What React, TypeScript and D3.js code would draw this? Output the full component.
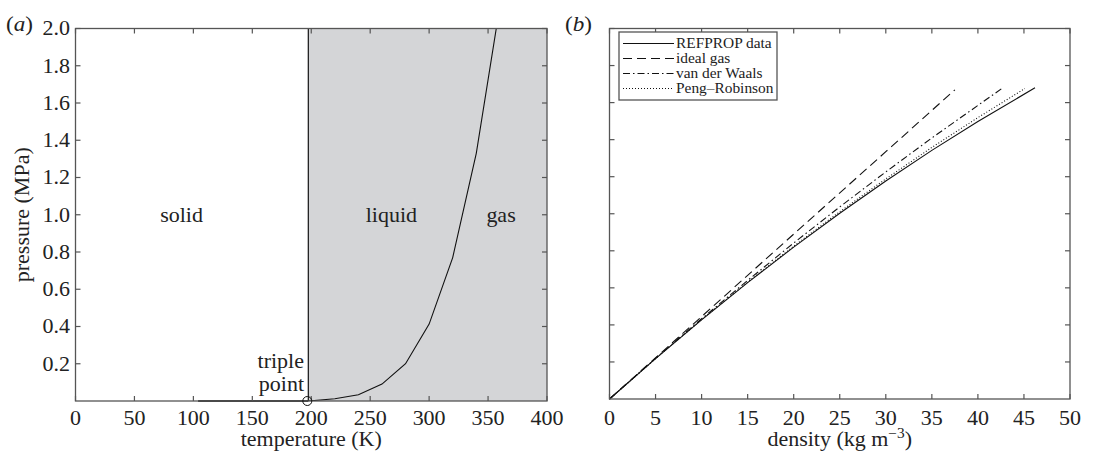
import React from 'react';
import * as d3 from 'd3';

// panel (a): phase diagram
const tempTicks = [0, 50, 100, 150, 200, 250, 300, 350, 400];
const pressTicks = [0.2, 0.4, 0.6, 0.8, 1.0, 1.2, 1.4, 1.6, 1.8, 2.0];
const tripleT = 197.5;
const vaporT = [197.5, 220, 240, 260, 280, 300, 320, 340, 360];
const vaporP = [0, 0.012, 0.034, 0.091, 0.2, 0.413, 0.77, 1.33, 2.12];
const sublimT = [104, 197.5];
const sublimP = [0, 0];

// panel (b): equations of state
const densTicks = [0, 5, 10, 15, 20, 25, 30, 35, 40, 45, 50];
const refpropRho = [0, 5, 10, 15, 20, 25, 30, 35, 40, 46.2];
const refpropP = [0, 0.218, 0.427, 0.628, 0.82, 1.003, 1.177, 1.342, 1.498, 1.68];
const idealRho = [0, 10, 20, 30, 37.5];
const idealP = [0, 0.445, 0.89, 1.335, 1.669];
const vdwRho = [0, 5, 10, 15, 20, 25, 30, 35, 42.6];
const vdwP = [0, 0.2195, 0.433, 0.64, 0.842, 1.037, 1.226, 1.409, 1.676];
const prRho = [0, 5, 10, 15, 20, 25, 30, 35, 40, 45.1];
const prP = [0, 0.218, 0.429, 0.631, 0.825, 1.011, 1.188, 1.358, 1.519, 1.676];

const legendNames = ['REFPROP data', 'ideal gas', 'van der Waals', 'Peng\u2013Robinson'];
const dashes = ['none', '9,5', '7,3,1.5,3', '1,2'];

const FONT = '"Liberation Serif", "Times New Roman", serif';
const AXIS = '#555';
const TEXT = '#222';

const zip = (xs: number[], ys: number[]) => xs.map((x, i) => [x, ys[i]] as [number, number]);

// the reference typesetting is a bit wider than the font, so stretch text horizontally
function T({ x, y, anchor = 'start', size = 20, rotate = 0, children }: any) {
  return (
    <text
      transform={`translate(${x},${y}) rotate(${rotate}) scale(1.1,1)`}
      textAnchor={anchor}
      fontSize={size}
      fill={TEXT}
    >
      {children}
    </text>
  );
}

export default function App() {
  const xa = d3.scaleLinear().domain([0, 400]).range([75.5, 547]);
  const ya = d3.scaleLinear().domain([0, 2]).range([401, 28.5]);
  const xb = d3.scaleLinear().domain([0, 50]).range([609.5, 1070]);
  const yb = d3.scaleLinear().domain([0, 2]).range([399, 28.5]);

  const lineA = d3.line<[number, number]>().x(d => xa(d[0])).y(d => ya(d[1]));
  const lineB = d3.line<[number, number]>().x(d => xb(d[0])).y(d => yb(d[1]));

  const series = [
    zip(refpropRho, refpropP),
    zip(idealRho, idealP),
    zip(vdwRho, vdwP),
    zip(prRho, prP),
  ];

  const tk = 5;

  return (
    <div style={{ position: 'absolute', left: 0, top: 0 }}>
      <svg width={1094} height={451} style={{ display: 'block', background: '#fff', fontFamily: FONT }}>
        <defs>
          <clipPath id="clipA">
            <rect x={xa(0)} y={ya(2)} width={xa(400) - xa(0)} height={ya(0) - ya(2)} />
          </clipPath>
        </defs>

        {/* ---------- panel (a) ---------- */}
        <rect x={xa(tripleT)} y={ya(2)} width={xa(400) - xa(tripleT)} height={ya(0) - ya(2)} fill="#d4d5d7" />
        <line x1={xa(tripleT)} x2={xa(tripleT)} y1={ya(0)} y2={ya(2)} stroke="#111" strokeWidth={1.2} />
        <g clipPath="url(#clipA)">
          <path d={lineA(zip(vaporT, vaporP)) || ''} fill="none" stroke="#111" strokeWidth={1.1} />
        </g>
        <rect x={xa(0)} y={ya(2)} width={xa(400) - xa(0)} height={ya(0) - ya(2)} fill="none" stroke={AXIS} strokeWidth={1.3} />
        <path d={lineA(zip(sublimT, sublimP)) || ''} fill="none" stroke="#333" strokeWidth={1.5} />
        {tempTicks.map(t => (
          <g key={'ta' + t}>
            <line x1={xa(t)} x2={xa(t)} y1={ya(0)} y2={ya(0) - tk} stroke={AXIS} strokeWidth={1.2} />
            <line x1={xa(t)} x2={xa(t)} y1={ya(2)} y2={ya(2) + tk} stroke={AXIS} strokeWidth={1.2} />
            <T x={xa(t)} y={424.5} anchor="middle">{t}</T>
          </g>
        ))}
        {pressTicks.map(p => (
          <g key={'pa' + p}>
            <line x1={xa(0)} x2={xa(0) + tk} y1={ya(p)} y2={ya(p)} stroke={AXIS} strokeWidth={1.2} />
            <line x1={xa(400)} x2={xa(400) - tk} y1={ya(p)} y2={ya(p)} stroke={AXIS} strokeWidth={1.2} />
            <T x={70} y={ya(p) + 6.8} anchor="end">{p.toFixed(1)}</T>
          </g>
        ))}
        <circle cx={xa(tripleT) - 1} cy={ya(0)} r={4.5} fill="none" stroke="#111" strokeWidth={1} />
        <T x={xa(90)} y={222} anchor="middle">solid</T>
        <T x={xa(268)} y={222} anchor="middle">liquid</T>
        <T x={xa(361)} y={222} anchor="middle">gas</T>
        <T x={304} y={368} anchor="end">triple</T>
        <T x={304} y={391} anchor="end">point</T>
        <T x={(xa(0) + xa(400)) / 2} y={446} anchor="middle">temperature (K)</T>
        <T x={29} y={(ya(0) + ya(2)) / 2} anchor="middle" rotate={-90}>pressure (MPa)</T>
        <T x={6} y={31} size={21}>(<tspan fontStyle="italic">a</tspan>)</T>

        {/* ---------- panel (b) ---------- */}
        {series.map((s, i) => (
          <path key={'s' + i} d={lineB(s) || ''} fill="none" stroke="#111" strokeWidth={1.1}
            strokeDasharray={dashes[i] === 'none' ? undefined : dashes[i]} />
        ))}
        <rect x={xb(0)} y={yb(2)} width={xb(50) - xb(0)} height={yb(0) - yb(2)} fill="none" stroke={AXIS} strokeWidth={1.3} />
        {densTicks.map(t => (
          <g key={'tb' + t}>
            <line x1={xb(t)} x2={xb(t)} y1={yb(0)} y2={yb(0) - tk} stroke={AXIS} strokeWidth={1.2} />
            <line x1={xb(t)} x2={xb(t)} y1={yb(2)} y2={yb(2) + tk} stroke={AXIS} strokeWidth={1.2} />
            <T x={xb(t)} y={424.5} anchor="middle">{t}</T>
          </g>
        ))}
        {pressTicks.map(p => (
          <g key={'pb' + p}>
            <line x1={xb(0)} x2={xb(0) + tk} y1={yb(p)} y2={yb(p)} stroke={AXIS} strokeWidth={1.2} />
            <line x1={xb(50)} x2={xb(50) - tk} y1={yb(p)} y2={yb(p)} stroke={AXIS} strokeWidth={1.2} />
          </g>
        ))}
        <T x={(xb(0) + xb(50)) / 2} y={446} anchor="middle">
          density (kg m<tspan dy={-8} fontSize={14}>{'\u22123'}</tspan><tspan dy={8}>)</tspan>
        </T>
        <T x={565} y={31} size={21}>(<tspan fontStyle="italic">b</tspan>)</T>

        {/* legend */}
        <rect x={619} y={32} width={158} height={68} fill="#fff" stroke={AXIS} strokeWidth={1.3} />
        {legendNames.map((name, i) => (
          <g key={name} transform={`translate(0,${43.5 + i * 15})`}>
            <line x1={623} x2={674} y1={0} y2={0} stroke="#111" strokeWidth={1.1}
              strokeDasharray={dashes[i] === 'none' ? undefined : dashes[i]} />
            <T x={676} y={4.8} size={14}>{name}</T>
          </g>
        ))}
      </svg>
    </div>
  );
}
